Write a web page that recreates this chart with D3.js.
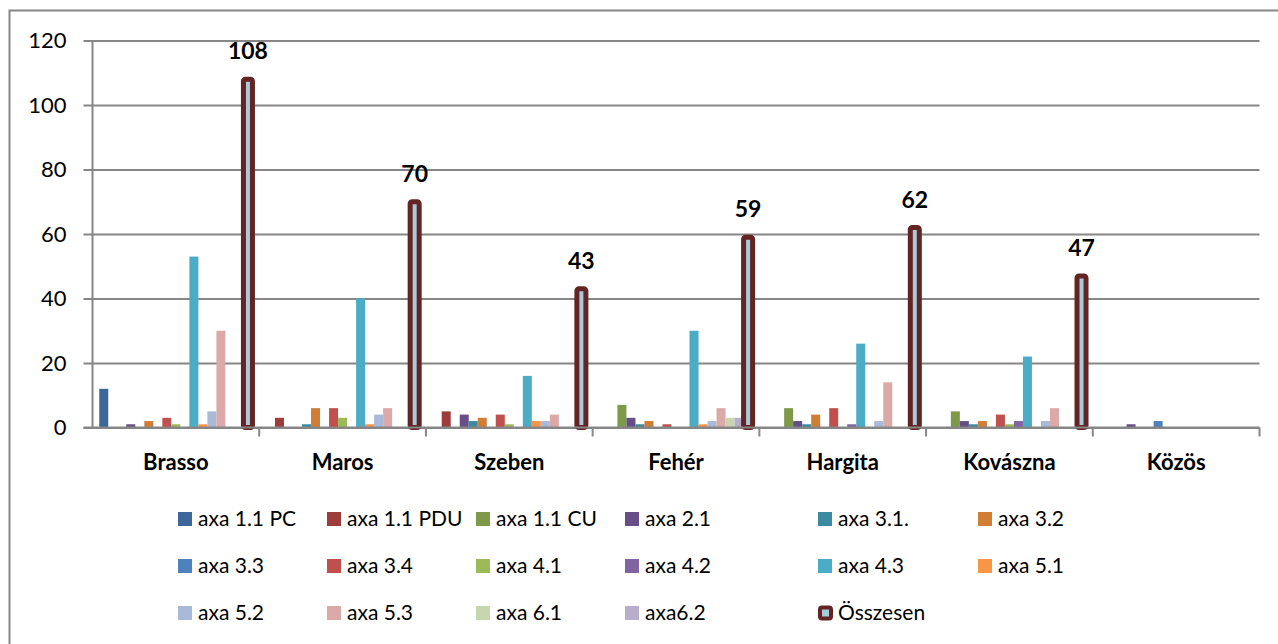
<!DOCTYPE html>
<html>
<head>
<meta charset="utf-8">
<script src="https://cdn.jsdelivr.net/npm/d3@7"></script>
<style>
  html, body { margin: 0; padding: 0; background: #fff; }
  svg { display: block; }
  text { font-family: Lato, "Open Sans", "Liberation Sans", sans-serif; }
</style>
</head>
<body>
<svg id="chart" width="1278" height="644"></svg>
<script>
// ---- data ----
const categories = ["Brasso", "Maros", "Szeben", "Fehér", "Hargita", "Kovászna", "Közös"];
const seriesNames = ["axa 1.1 PC", "axa 1.1 PDU", "axa 1.1 CU", "axa 2.1", "axa 3.1.", "axa 3.2",
  "axa 3.3", "axa 3.4", "axa 4.1", "axa 4.2", "axa 4.3", "axa 5.1", "axa 5.2", "axa 5.3",
  "axa 6.1", "axa6.2", "Összesen"];
const seriesColors = ["#3d679a", "#9d3d3b", "#7e9a48", "#654f86", "#3a8aa0", "#d07d36",
  "#4f81bd", "#c0504d", "#9bbb59", "#8064a2", "#4bacc6", "#f79646", "#a9bad8", "#dba9a8",
  "#c7d6ae", "#b8aecb", "#a8cbdc"];
// values per category, in series order (null = no bar)
const brasso   = [12, 0, 0, 1, 0, 2, 0, 3, 1, 0, 53, 1, 5, 30, 0, 0, 108];
const maros    = [0, 3, 0, 0, 1, 6, 0, 6, 3, 0, 40, 1, 4, 6, 0, 0, 70];
const szeben   = [0, 5, 0, 4, 2, 3, 0, 4, 1, 0, 16, 2, 2, 4, 0, 0, 43];
const feher    = [0, 0, 7, 3, 1, 2, 0, 1, 0, 0, 30, 1, 2, 6, 3, 3, 59];
const hargita  = [0, 0, 6, 2, 1, 4, 0, 6, 0, 1, 26, 0, 2, 14, 0, 0, 62];
const kovaszna = [0, 0, 5, 2, 1, 2, 0, 4, 1, 2, 22, 0, 2, 6, 0, 0, 47];
const kozos    = [0, 0, 0, 1, 0, 0, 2, 0, 0, 0, 0, 0, 0, 0, 0, 0, null];
const values = [brasso, maros, szeben, feher, hargita, kovaszna, kozos];
const yTicks = [0, 20, 40, 60, 80, 100, 120];

// ---- layout ----
const svg = d3.select("#chart");
const plot = { left: 92.5, right: 1259.5, top: 40.5, bottom: 427.5 };
const totalIdx = seriesNames.length - 1;

// outer chart border
svg.append("rect").attr("x", 9.5).attr("y", 10.5).attr("width", 1300).attr("height", 700)
  .attr("fill", "none").attr("stroke", "#868686").attr("stroke-width", 2);

const y = d3.scaleLinear().domain([0, 120]).range([plot.bottom, plot.top]);
const x0 = d3.scaleBand().domain(categories).range([plot.left, plot.right]).paddingInner(0).paddingOuter(0);
const nSeries = seriesNames.length;
const bw = x0.bandwidth() / (nSeries + 1.5);
const x1 = d3.scaleBand().domain(d3.range(nSeries))
  .range([0.75 * bw, x0.bandwidth() - 0.75 * bw]).padding(0);

// gridlines + y axis
const yAxis = d3.axisLeft(y).tickValues(yTicks).tickSize(plot.right - plot.left + 9).tickPadding(16).tickFormat(d3.format("d"));
const gy = svg.append("g").attr("transform", `translate(${plot.right},0)`).call(yAxis);
gy.select(".domain").remove();
gy.selectAll(".tick line").attr("stroke", "#868686").attr("stroke-width", 2);
gy.selectAll(".tick text").attr("font-size", 22).attr("fill", "#000")
  .attr("x", -(plot.right - plot.left) - 26);
// y axis line
svg.append("line").attr("x1", plot.left).attr("x2", plot.left).attr("y1", plot.top).attr("y2", plot.bottom)
  .attr("stroke", "#868686").attr("stroke-width", 2);

// bars
const gBars = svg.append("g");
categories.forEach((c, ci) => {
  values[ci].forEach((v, si) => {
    if (v === null || v === 0) return;
    const bx = x0(c) + x1(si);
    if (si === totalIdx) {
      gBars.append("rect")
        .attr("x", bx).attr("width", bw)
        .attr("y", y(v)).attr("height", y(0) - y(v))
        .attr("rx", 2)
        .attr("fill", seriesColors[si]).attr("stroke", "#632523").attr("stroke-width", 5);
      svg.append("text").attr("x", bx + bw / 2).attr("y", y(v) - 20)
        .attr("text-anchor", "middle").attr("font-size", 23).attr("font-weight", "bold")
        .attr("fill", "#000").text(v);
    } else {
      gBars.append("rect")
        .attr("x", bx).attr("width", bw)
        .attr("y", y(v)).attr("height", y(0) - y(v))
        .attr("fill", seriesColors[si]);
    }
  });
});

// x axis
const xAxis = d3.axisBottom(x0).tickSize(0).tickPadding(27);
const gx = svg.append("g").attr("transform", `translate(0,${plot.bottom})`).call(xAxis);
gx.select(".domain").remove();
gx.selectAll(".tick text").attr("font-size", 22).attr("font-weight", "bold").attr("fill", "#000");
svg.append("line").attr("x1", plot.left - 9).attr("x2", plot.right).attr("y1", plot.bottom).attr("y2", plot.bottom)
  .attr("stroke", "#868686").attr("stroke-width", 2);
categories.forEach(c => {
  const xx = x0(c) + x0.bandwidth();
  svg.append("line").attr("x1", xx).attr("x2", xx).attr("y1", plot.bottom).attr("y2", plot.bottom + 9)
    .attr("stroke", "#868686").attr("stroke-width", 2);
});

// legend
const legendCols = [178, 327, 476, 625, 818, 978];
const legendRows = [519, 566, 613];
const gl = svg.append("g");
seriesNames.forEach((name, i) => {
  const col = i % 6, row = Math.floor(i / 6);
  const lx = legendCols[col], ly = legendRows[row];
  if (i === totalIdx) {
    gl.append("rect").attr("x", lx + 2).attr("y", ly - 5.5).attr("width", 11).attr("height", 11)
      .attr("rx", 2).attr("fill", seriesColors[i]).attr("stroke", "#632523").attr("stroke-width", 4);
  } else {
    gl.append("rect").attr("x", lx).attr("y", ly - 7).attr("width", 14).attr("height", 14)
      .attr("fill", seriesColors[i]);
  }
  gl.append("text").attr("x", lx + 20).attr("y", ly).attr("dy", "0.35em")
    .attr("font-size", 21).attr("fill", "#000").text(name);
});
</script>
</body>
</html>
